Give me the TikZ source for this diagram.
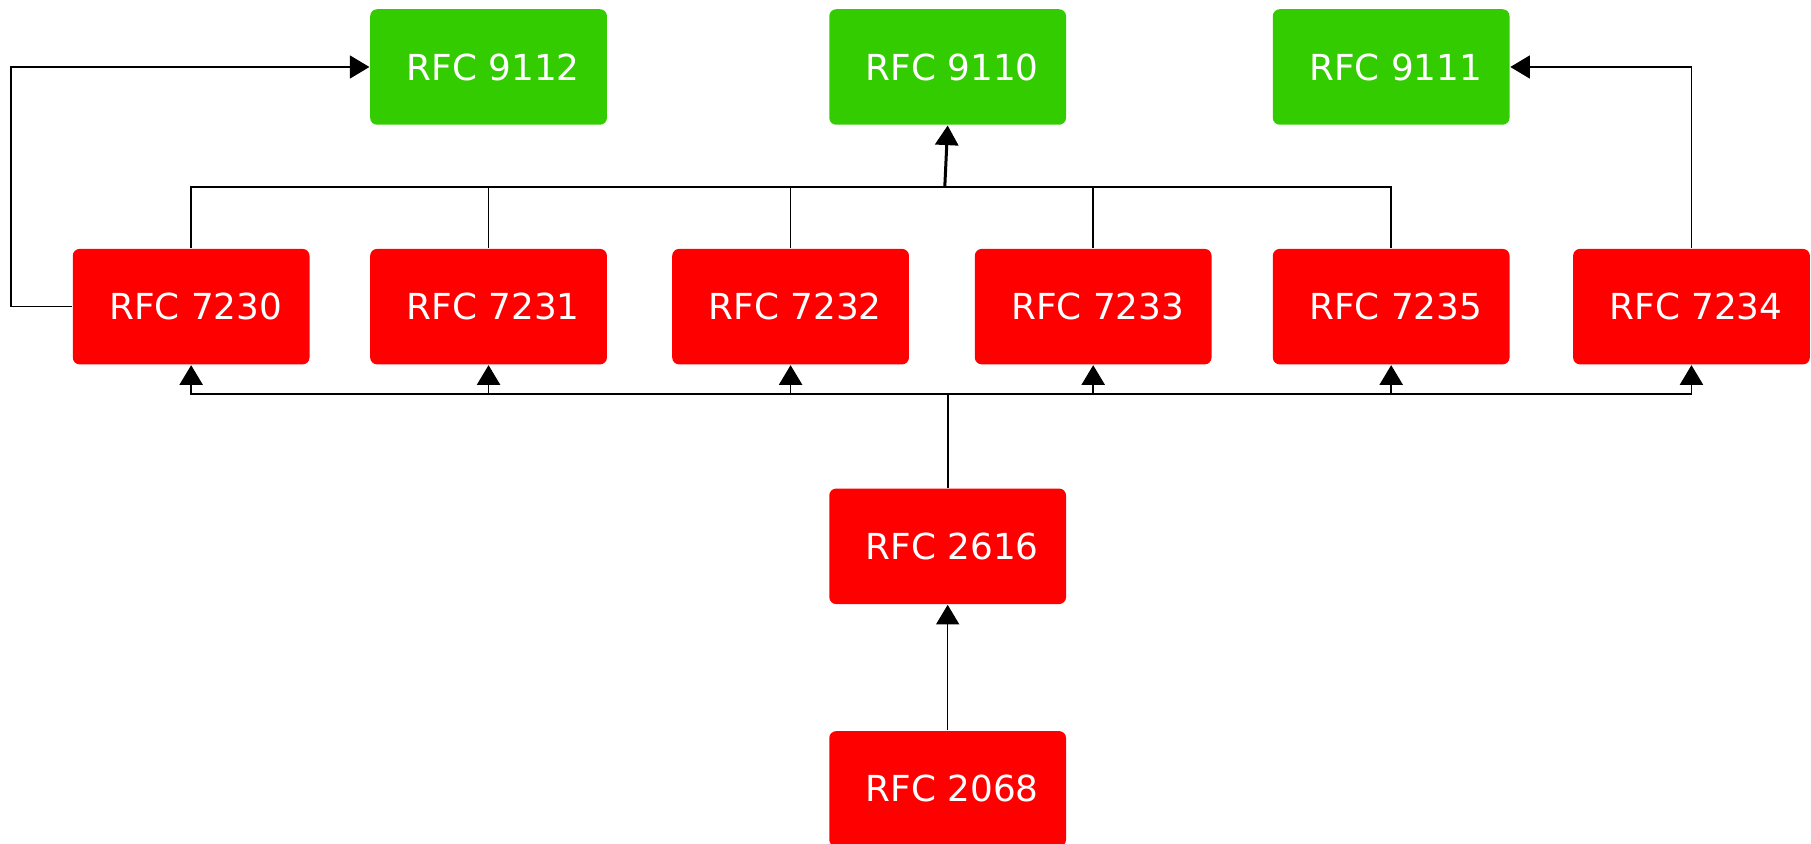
\documentclass[tikz,border=0pt]{standalone}
\usepackage{fontspec}
\setmainfont{DejaVu Sans}
\usepackage{xcolor}
\usetikzlibrary{positioning,calc,arrows.meta}
\definecolor{rfcgreen}{HTML}{33CC00}
\definecolor{rfcred}{HTML}{FF0000}

\begin{document}
\begin{tikzpicture}[x=1pt, y=-1pt, line width=1.3pt,
    rfcbox/.style={rectangle, rounded corners=6pt, inner sep=0pt, minimum width=205pt, minimum height=100pt,
        text=white, font=\fontsize{31}{36}\selectfont},
    rfcold/.style={rfcbox, fill=rfcred},
    rfcnew/.style={rfcbox, fill=rfcgreen},
    dep/.style={-{Triangle[length=17pt,width=20pt]}}]
    \useasboundingbox (0,0) rectangle (1568,730.7);
    % top row
    \node[rfcnew] (n9112) at (423,58) {\hspace{8pt}RFC 9112};
    \node[rfcnew] (n9110) at (820.5,58) {\hspace{8pt}RFC 9110};
    \node[rfcnew] (n9111) at (1204.5,58) {\hspace{8pt}RFC 9111};
    % middle row
    \node[rfcold] (n7230) at (165.5,265.5) {\hspace{8pt}RFC 7230};
    \node[rfcold] (n7231) at (423,265.5) {\hspace{8pt}RFC 7231};
    \node[rfcold] (n7232) at (684.5,265.5) {\hspace{8pt}RFC 7232};
    \node[rfcold] (n7233) at (946.5,265.5) {\hspace{8pt}RFC 7233};
    \node[rfcold] (n7235) at (1204.5,265.5) {\hspace{8pt}RFC 7235};
    \node[rfcold] (n7234) at (1464.5,265.5) {\hspace{8pt}RFC 7234};
    % bottom
    \node[rfcold] (n2616) at (820.5,473) {\hspace{8pt}RFC 2616};
    \node[rfcold] (n2068) at (820.5,683) {\hspace{8pt}RFC 2068};

    \coordinate (tb) at (818,162);
    \coordinate (bb) at (820.5,341);

    % top bus to 9110
    \draw (n7230.north) -- (n7230.north |- tb) -- (n7235.north |- tb) -- (n7235.north);
    \draw (n7231.north) -- (n7231.north |- tb);
    \draw (n7232.north) -- (n7232.north |- tb);
    \draw (n7233.north) -- (n7233.north |- tb);
    \draw[dep, line width=2.6pt] (tb) -- (n9110.south);

    % side links
    \draw[dep] (n7230.west) -- ++(-53,0) |- (n9112.west);
    \draw[dep] (n7234.north) |- (n9111.east);

    % bottom bus from 2616
    \draw[line width=2pt] (n2616.north) -- (bb);
    \draw[dep] (bb) -| (n7230.south);
    \draw[dep] (bb) -| (n7231.south);
    \draw[dep] (bb) -| (n7232.south);
    \draw[dep] (bb) -| (n7233.south);
    \draw[dep] (bb) -| (n7235.south);
    \draw[dep] (bb) -| (n7234.south);
    \draw[dep] (n2068.north) -- (n2616.south);
\end{tikzpicture}
\end{document}
